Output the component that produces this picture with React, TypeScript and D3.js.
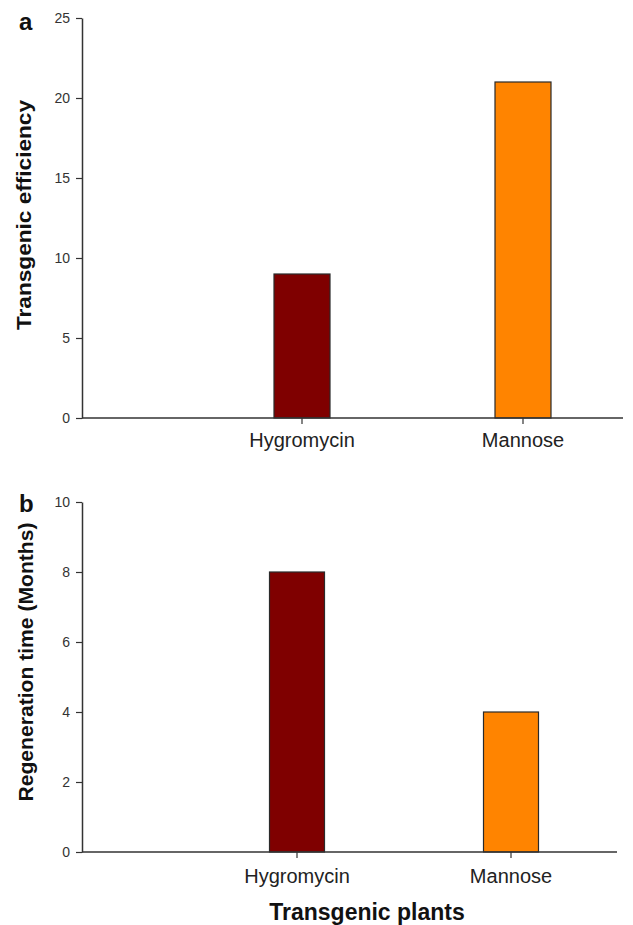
import { useEffect, useRef } from "react";
import * as d3 from "d3";

// data
const categories = ["Hygromycin", "Mannose"];
const efficiency = [9, 21];
const regenTime = [8, 4];
const barColors = ["#7f0000", "#ff8400"];

const effTicks = [0, 5, 10, 15, 20, 25];
const regenTicks = [0, 2, 4, 6, 8, 10];

type Panel = {
  letter: string;
  values: number[];
  ticks: number[];
  yMax: number;
  top: number;
  bottom: number;
  xStart: number;
  xEnd: number;
  first: number; // centre of first category
  step: number;
  barW: number;
  yTitle: string;
  titleX: number;
  titleY: number;
  titleLen: number;
  letterY: number;
  labelY: number;
};

const panels: Panel[] = [
  {
    letter: "a",
    values: efficiency,
    ticks: effTicks,
    yMax: 25,
    top: 18,
    bottom: 418,
    xStart: 82,
    xEnd: 623,
    first: 302,
    step: 221,
    barW: 56,
    yTitle: "Transgenic efficiency",
    titleX: 31,
    titleY: 215,
    titleLen: 230,
    letterY: 30,
    labelY: 447,
  },
  {
    letter: "b",
    values: regenTime,
    ticks: regenTicks,
    yMax: 10,
    top: 502,
    bottom: 852,
    xStart: 82,
    xEnd: 617,
    first: 297,
    step: 214,
    barW: 55,
    yTitle: "Regeneration time (Months)",
    titleX: 33,
    titleY: 662,
    titleLen: 279,
    letterY: 512,
    labelY: 883,
  },
];

export default function App() {
  const ref = useRef<SVGSVGElement>(null);

  useEffect(() => {
    const svg = d3.select(ref.current);
    svg.selectAll("*").remove();
    svg.style("font-family", "'Liberation Sans', Arial, sans-serif");

    panels.forEach((p) => {
      const g = svg.append("g");

      const y = d3.scaleLinear().domain([0, p.yMax]).range([p.bottom, p.top]);
      const x = d3
        .scalePoint<string>()
        .domain(categories)
        .range([p.first, p.first + p.step * (categories.length - 1)]);

      // bars
      g.selectAll("rect.bar")
        .data(p.values)
        .join("rect")
        .attr("class", "bar")
        .attr("x", (_, i) => x(categories[i])! - p.barW / 2)
        .attr("width", p.barW)
        .attr("y", (d) => y(d))
        .attr("height", (d) => p.bottom - y(d))
        .attr("fill", (_, i) => barColors[i])
        .attr("stroke", "#2a2a2a")
        .attr("stroke-width", 1.2);

      // y axis
      const yAxis = d3
        .axisLeft(y)
        .tickValues(p.ticks)
        .tickSize(6)
        .tickPadding(6)
        .tickSizeOuter(0);
      const ya = g
        .append("g")
        .attr("transform", `translate(${p.xStart},0)`)
        .call(yAxis);
      ya.select(".domain").attr("stroke", "#333").attr("stroke-width", 1.5);
      ya.selectAll(".tick line").attr("stroke", "#333").attr("stroke-width", 1.2);
      ya.selectAll(".tick text")
        .attr("fill", "#333")
        .style("font-size", "14px")
        .style("font-family", "'Liberation Sans', Arial, sans-serif");

      // x axis
      g.append("line")
        .attr("x1", p.xStart)
        .attr("x2", p.xEnd)
        .attr("y1", p.bottom)
        .attr("y2", p.bottom)
        .attr("stroke", "#333")
        .attr("stroke-width", 1.5);
      const xt = g
        .selectAll("g.xtick")
        .data(categories)
        .join("g")
        .attr("class", "xtick")
        .attr("transform", (d) => `translate(${x(d)},${p.bottom})`);
      xt.append("line").attr("y2", 6).attr("stroke", "#333").attr("stroke-width", 1.2);
      xt.append("text")
        .attr("y", p.labelY - p.bottom)
        .attr("text-anchor", "middle")
        .attr("fill", "#222")
        .style("font-size", "20px")
        .text((d) => d);

      // y title
      g.append("text")
        .attr("transform", `translate(${p.titleX},${p.titleY}) rotate(-90)`)
        .attr("text-anchor", "middle")
        .attr("fill", "#111")
        .attr("textLength", p.titleLen)
        .attr("lengthAdjust", "spacingAndGlyphs")
        .style("font-size", "20px")
        .style("font-weight", "bold")
        .text(p.yTitle);

      // panel letter
      g.append("text")
        .attr("x", 19)
        .attr("y", p.letterY)
        .attr("fill", "#111")
        .style("font-size", "24px")
        .style("font-weight", "bold")
        .text(p.letter);
    });

    svg
      .append("text")
      .attr("x", 367)
      .attr("y", 920)
      .attr("text-anchor", "middle")
      .attr("fill", "#111")
      .style("font-size", "23px")
      .style("font-weight", "bold")
      .text("Transgenic plants");
  }, []);

  return (
    <svg
      ref={ref}
      width={633}
      height={925}
      style={{ position: "absolute", left: 0, top: 0, background: "#fff" }}
    />
  );
}
